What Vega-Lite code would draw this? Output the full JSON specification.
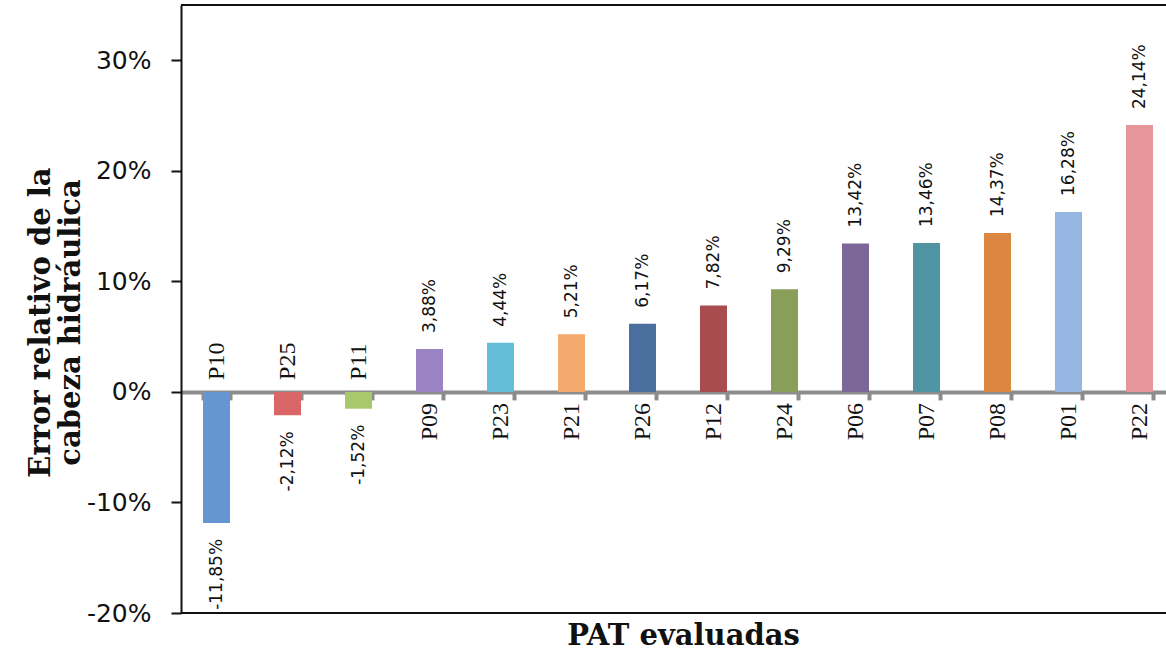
{
  "$schema": "https://vega.github.io/schema/vega-lite/v6.json",
  "autosize": "none",
  "padding": {"left": 181, "top": 5, "right": 0, "bottom": 40},
  "width": 985,
  "height": 608,
  "background": "white",
  "config": {
    "view": {"stroke": null},
    "locale": {"number": {"decimal": ",", "thousands": ".", "grouping": [3], "currency": ["", ""], "minus": "-"}}
  },
  "data": {"values": [
    {"pat": "P10", "value": -0.1185},
    {"pat": "P25", "value": -0.0212},
    {"pat": "P11", "value": -0.0152},
    {"pat": "P09", "value": 0.0388},
    {"pat": "P23", "value": 0.0444},
    {"pat": "P21", "value": 0.0521},
    {"pat": "P26", "value": 0.0617},
    {"pat": "P12", "value": 0.0782},
    {"pat": "P24", "value": 0.0929},
    {"pat": "P06", "value": 0.1342},
    {"pat": "P07", "value": 0.1346},
    {"pat": "P08", "value": 0.1437},
    {"pat": "P01", "value": 0.1628},
    {"pat": "P22", "value": 0.2414}
  ]},
  "layer": [
    {
      "mark": {"type": "rule", "color": "#111111", "strokeWidth": 2},
      "encoding": {"y": {"datum": 0.35}}
    },
    {
      "mark": {"type": "rule", "color": "#111111", "strokeWidth": 2},
      "encoding": {"y": {"datum": -0.2}}
    },
    {
      "mark": {"type": "bar"},
      "encoding": {
        "x": {
          "field": "pat", "type": "nominal", "sort": null,
          "scale": {"range": [0, 994], "paddingInner": 0.62, "paddingOuter": 0.31},
          "axis": {
            "orient": "bottom", "offset": -221.1, "labels": false,
            "domainColor": "#8c8c8c", "domainWidth": 4,
            "tickColor": "#8c8c8c", "tickWidth": 4, "tickSize": 8, "tickBand": "extent",
            "title": "PAT evaluadas", "titleFont": "DejaVu Serif", "titleFontWeight": "bold",
            "titleFontSize": 29, "titleColor": "#111111", "titleBaseline": "alphabetic",
            "titleY": 253, "titleX": 502, "titleAlign": "center"
          }
        },
        "y": {
          "field": "value", "type": "quantitative",
          "scale": {"domain": [-0.2, 0.35], "nice": false, "zero": false},
          "axis": {
            "values": [-0.2, -0.1, 0, 0.1, 0.2, 0.3], "format": ".0%", "grid": false,
            "domainColor": "#111111", "domainWidth": 2,
            "tickColor": "#111111", "tickWidth": 2, "tickSize": 10,
            "labelFont": "DejaVu Sans", "labelFontSize": 25, "labelColor": "#111111", "labelPadding": 20,
            "title": ["Error relativo de la", "cabeza hidráulica"],
            "titleFont": "DejaVu Serif", "titleFontWeight": "bold", "titleFontSize": 29,
            "titleColor": "#111111", "titleLineHeight": 30, "titleAlign": "center",
            "titleBaseline": "middle", "titleAngle": 270, "titleX": -141, "titleY": 317
          }
        },
        "color": {
          "field": "pat", "type": "nominal", "legend": null,
          "scale": {
            "domain": ["P10", "P25", "P11", "P09", "P23", "P21", "P26", "P12", "P24", "P06", "P07", "P08", "P01", "P22"],
            "range": ["#6696d0", "#d9676a", "#a9c76d", "#9b84c4", "#64bdd7", "#f5aa6d", "#4a6f9f", "#a94c50", "#899e59", "#7b6899", "#4e94a3", "#db8741", "#94b6e0", "#e6969b"]
          }
        }
      }
    },
    {
      "transform": [{"filter": "datum.value >= 0"}],
      "mark": {"type": "text", "angle": 270, "align": "right", "baseline": "middle", "dx": -11, "font": "Liberation Serif", "fontSize": 24, "color": "#111111"},
      "encoding": {
        "x": {"field": "pat", "type": "nominal", "sort": null},
        "y": {"datum": 0},
        "text": {"field": "pat"}
      }
    },
    {
      "transform": [{"filter": "datum.value < 0"}],
      "mark": {"type": "text", "angle": 270, "align": "left", "baseline": "middle", "dx": 12, "font": "Liberation Serif", "fontSize": 24, "color": "#111111"},
      "encoding": {
        "x": {"field": "pat", "type": "nominal", "sort": null},
        "y": {"datum": 0},
        "text": {"field": "pat"}
      }
    },
    {
      "transform": [{"filter": "datum.value >= 0"}],
      "mark": {"type": "text", "angle": 270, "align": "left", "baseline": "middle", "dx": 16, "font": "DejaVu Sans", "fontSize": 17, "color": "#111111"},
      "encoding": {
        "x": {"field": "pat", "type": "nominal", "sort": null},
        "y": {"field": "value", "type": "quantitative"},
        "text": {"field": "value", "type": "quantitative", "format": ".2%"}
      }
    },
    {
      "transform": [{"filter": "datum.value < 0"}],
      "mark": {"type": "text", "angle": 270, "align": "right", "baseline": "middle", "dx": -16, "font": "DejaVu Sans", "fontSize": 17, "color": "#111111"},
      "encoding": {
        "x": {"field": "pat", "type": "nominal", "sort": null},
        "y": {"field": "value", "type": "quantitative"},
        "text": {"field": "value", "type": "quantitative", "format": ".2%"}
      }
    }
  ]
}
